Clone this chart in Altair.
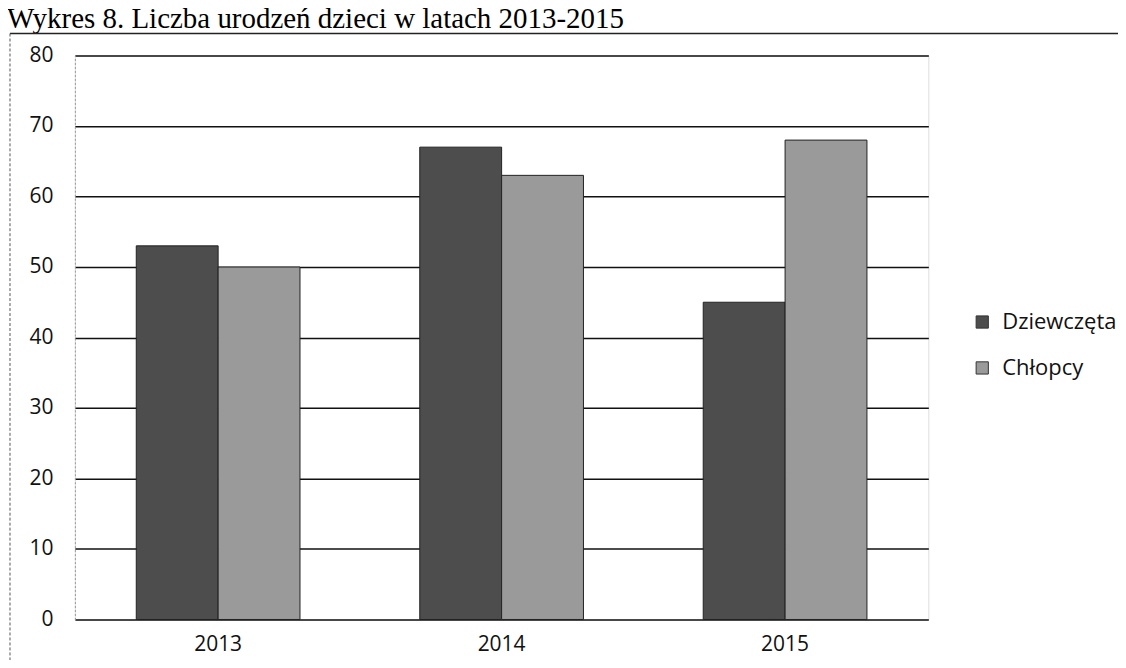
import altair as alt
import pandas as pd

years = ["2013", "2014", "2015"]
series = ["Dziewczęta", "Chłopcy"]
dziewczeta = [53, 67, 45]
chlopcy = [50, 63, 68]
title_text = "Wykres 8. Liczba urodzeń dzieci w latach 2013-2015"

rows = []
for i, y in enumerate(years):
    rows.append({"rok": y, "plec": series[0], "liczba": dziewczeta[i]})
    rows.append({"rok": y, "plec": series[1], "liczba": chlopcy[i]})
df = pd.DataFrame(rows)

FONT = "Open Sans"

bars = alt.Chart(df).mark_bar(stroke="#222222", strokeWidth=1).encode(
    x=alt.X("rok:N", sort=years,
            scale=alt.Scale(paddingInner=0.4225, paddingOuter=0.2166),
            axis=alt.Axis(title=None, labelAngle=0, labelFontSize=21, labelFont=FONT,
                          labelColor="#111111", labelPadding=14, ticks=False,
                          domain=False)),
    xOffset=alt.XOffset("plec:N", sort=series),
    y=alt.Y("liczba:Q", scale=alt.Scale(domain=[0, 80]),
            axis=alt.Axis(title=None, values=list(range(0, 81, 10)), labelFontSize=21,
                          labelFont=FONT, labelColor="#111111", labelPadding=22,
                          ticks=False, domain=True, domainColor="#999999",
                          domainDash=[2, 2], domainWidth=1,
                          grid=True, gridColor="#111111", gridWidth=1.5)),
    color=alt.Color("plec:N", sort=series,
                    scale=alt.Scale(domain=series, range=["#4d4d4d", "#9a9a9a"]),
                    legend=alt.Legend(title=None, orient="none", legendX=898, legendY=256,
                                      padding=0, symbolType="square", symbolSize=150,
                                      symbolStrokeColor="#333333", symbolStrokeWidth=1,
                                      labelFontSize=22, labelFont=FONT, labelColor="#111111",
                                      rowPadding=24, labelOffset=9)),
)

title = alt.Chart(pd.DataFrame({"t": [title_text]})).mark_text(
    align="left", baseline="alphabetic", font="Liberation Serif", fontSize=29, color="#000000"
).encode(text="t:N", x=alt.value(-68), y=alt.value(-28))

hline = alt.Chart(pd.DataFrame({"a": [0]})).mark_rule(color="#222222", strokeWidth=1.5).encode(
    x=alt.value(-65), x2=alt.value(1060), y=alt.value(-22))
vline = alt.Chart(pd.DataFrame({"a": [0]})).mark_rule(color="#555555", strokeWidth=1, strokeDash=[3, 2]).encode(
    x=alt.value(-65), y=alt.value(-22), y2=alt.value(620))

chart = alt.layer(bars, title, hline, vline).properties(
    width=855, height=565,
    padding={"left": 67, "top": 47, "right": 190, "bottom": 40},
    autosize=alt.AutoSizeParams(type="none"),
).configure_view(stroke=None).configure(background="white")

chart.save("out.html", embed_options={"renderer": "svg", "actions": False})
